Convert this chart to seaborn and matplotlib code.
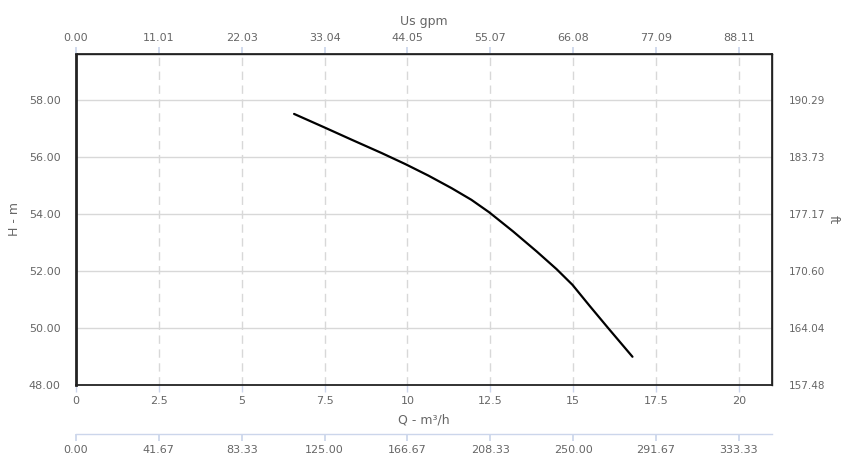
import numpy as np
import pandas as pd
import matplotlib
matplotlib.use("Agg")
import matplotlib.pyplot as plt
import seaborn as sns

# Pump curve (Q in m3/h, H in m)
flow_m3h = [6.58, 7.49, 8.31, 9.22, 9.94, 10.63, 11.33, 11.93, 12.47,
            13.19, 13.90, 14.50, 14.98, 15.50, 16.06, 16.79]
head_m = [57.50, 57.03, 56.60, 56.13, 55.74, 55.34, 54.90, 54.49, 54.05,
          53.38, 52.68, 52.06, 51.51, 50.77, 49.99, 48.99]

x_ticks = [0, 2.5, 5, 7.5, 10, 12.5, 15, 17.5, 20]
x_labels = ["0", "2.5", "5", "7.5", "10", "12.5", "15", "17.5", "20"]
gpm_labels = ["0.00", "11.01", "22.03", "33.04", "44.05", "55.07", "66.08", "77.09", "88.11"]
lmin_labels = ["0.00", "41.67", "83.33", "125.00", "166.67", "208.33", "250.00", "291.67", "333.33"]
y_ticks = [48, 50, 52, 54, 56, 58]
y_labels = ["48.00", "50.00", "52.00", "54.00", "56.00", "58.00"]
ft_labels = ["157.48", "164.04", "170.60", "177.17", "183.73", "190.29"]

sns.set_theme(style="white")
plt.rcParams["font.family"] = ["DejaVu Sans"]

TXT = "#666666"
AXC = "#ccd6eb"
W, H = 851, 463

fig = plt.figure(figsize=(W / 100, H / 100), dpi=100)
ax = fig.add_axes([76 / W, 1 - 385 / H, 696 / W, 331 / H])

df = pd.DataFrame({"Q": flow_m3h, "H": head_m})
sns.lineplot(data=df, x="Q", y="H", ax=ax, color="black", linewidth=1.6)

ax.set_xlim(0, 21)
ax.set_ylim(48, 59.6)
ax.set_xticks(x_ticks)
ax.set_xticklabels(x_labels)
ax.set_yticks(y_ticks)
ax.set_yticklabels(y_labels)
ax.grid(False)
for y in y_ticks[1:]:
    ax.axhline(y, color="#d8d8d8", linewidth=1, zorder=0)
for x in x_ticks[1:]:
    ax.axvline(x, color="#d8d8d8", linewidth=1, linestyle=(0, (6, 4)), zorder=0)

ax.tick_params(axis="x", colors=AXC, labelcolor=TXT, labelsize=8, length=5, width=1, pad=3, direction="out", bottom=True)
ax.tick_params(axis="y", labelcolor=TXT, labelsize=8, length=0, pad=11)
for side in ["left", "bottom", "right", "top"]:
    ax.spines[side].set_color("#222222")
ax.spines["left"].set_linewidth(2)
ax.spines["bottom"].set_linewidth(1.3)
ax.spines["right"].set_linewidth(1)
ax.spines["top"].set_linewidth(1)

ax.set_xlabel("Q - m³/h", color=TXT, fontsize=9, labelpad=5)
ax.set_ylabel("H - m", color=TXT, fontsize=9, va="center")
ax.yaxis.set_label_coords(-61 / 696, 0.5)

# top axis: US gpm
top = ax.twiny()
top.set_xlim(ax.get_xlim())
top.set_xticks(x_ticks)
top.set_xticklabels(gpm_labels)
top.tick_params(axis="x", colors=AXC, labelcolor=TXT, labelsize=8, length=5, pad=3, top=True)
top.set_xlabel("Us gpm", color=TXT, fontsize=9, labelpad=6)
top.spines["top"].set_color("#222222")
for side in ["left", "bottom", "right"]:
    top.spines[side].set_visible(False)

# right axis: ft
right = ax.twinx()
right.set_ylim(ax.get_ylim())
right.set_yticks(y_ticks)
right.set_yticklabels(ft_labels)
right.tick_params(axis="y", labelcolor=TXT, labelsize=7.5, length=0, pad=12)
right.set_ylabel("ft", color=TXT, fontsize=9, rotation=270, va="center")
right.yaxis.set_label_coords(1 + 61 / 696, 0.5)
for side in ["left", "bottom", "top"]:
    right.spines[side].set_visible(False)
right.spines["right"].set_color("#222222")

# second bottom axis: l/min
sec = ax.secondary_xaxis(-49 / 331)
sec.set_xticks(x_ticks)
sec.set_xticklabels(lmin_labels)
sec.tick_params(axis="x", colors=AXC, labelcolor=TXT, labelsize=8, length=5, pad=3)
sec.spines["bottom"].set_color(AXC)
sec.spines["bottom"].set_linewidth(1)

fig.savefig("out.png", dpi=100)
